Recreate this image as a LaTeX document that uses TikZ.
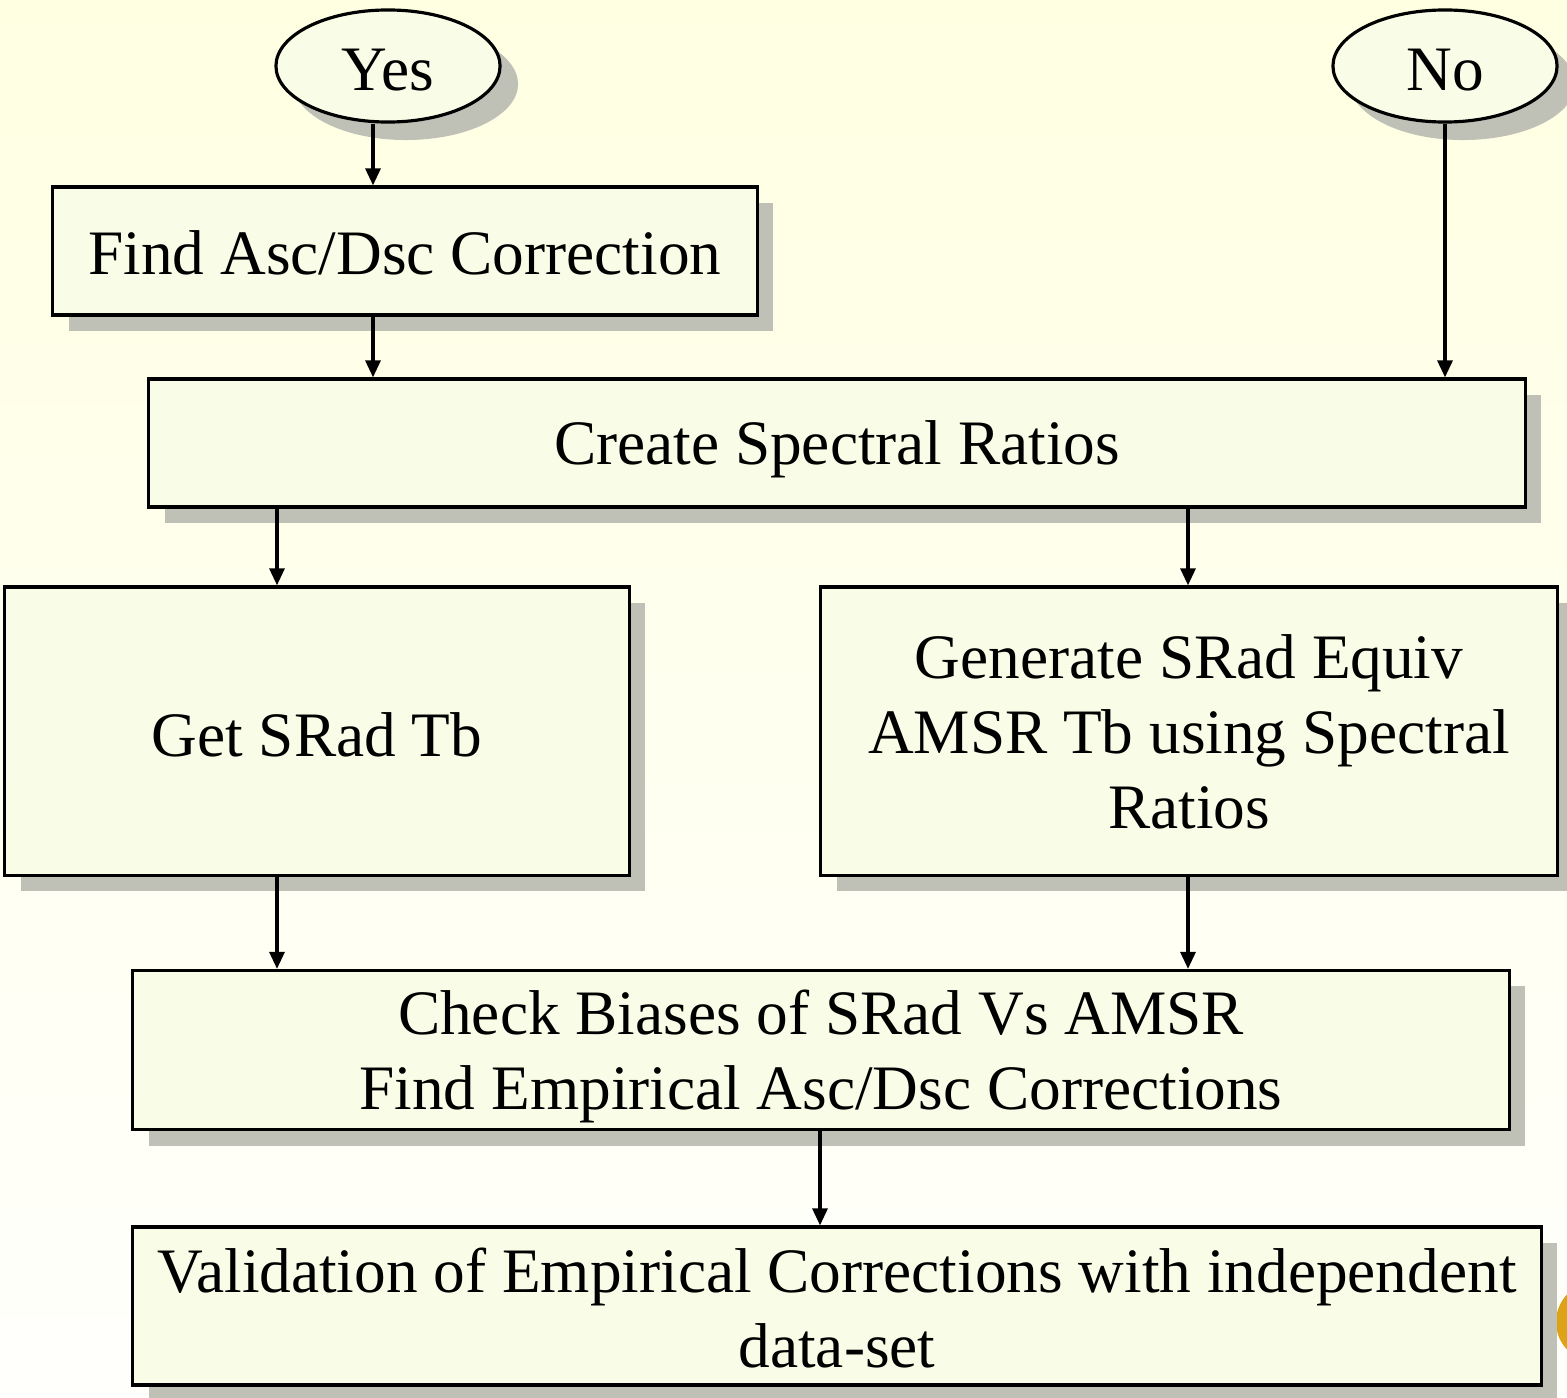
\documentclass[tikz,border=0pt]{standalone}
\usepackage{fontspec}
\setmainfont{Liberation Serif}
\usetikzlibrary{arrows.meta,shadows,shapes.geometric}
\definecolor{bgtop}{RGB}{255,255,226}
\definecolor{bgbot}{RGB}{255,255,252}
\definecolor{boxfill}{RGB}{249,252,230}
\definecolor{shadowc}{RGB}{191,192,182}
\definecolor{logoc}{RGB}{222,162,24}
\newcommand{\lift}[1]{\rule{0pt}{#1}}
\begin{document}
\begin{tikzpicture}[x=0.01cm,y=-0.01cm,
  box/.style={draw=black, line width=0.9pt, fill=boxfill, align=center, inner sep=0pt,
    font=\fontsize{18}{21.3}\selectfont,
    drop shadow={shadow xshift=0.16cm, shadow yshift=-0.16cm, fill=shadowc, opacity=1}},
  oval/.style={box, ellipse, minimum width=2.24cm, minimum height=1.12cm,
    drop shadow={shadow xshift=0.18cm, shadow yshift=-0.18cm, fill=shadowc, opacity=1}},
  arr/.style={-{Triangle[length=0.17cm,width=0.15cm]}, line width=0.9pt}]
\useasboundingbox (0,0) rectangle (1567,1397);
\fill[top color=bgtop, bottom color=bgbot] (0,0) rectangle (1567,1397);
\begin{scope}
  \clip (0,0) rectangle (1567,1397);
  \fill[logoc] (1596,1322) circle (40);
\end{scope}

\node[oval] (yes) at (388,66) {\lift{0.50cm}Yes};
\node[oval] (no) at (1445,66) {\lift{0.50cm}No};
\node[box, minimum width=7.04cm, minimum height=1.28cm] (find) at (405,251) {\lift{0.48cm}Find Asc/Dsc Correction};
\node[box, minimum width=13.76cm, minimum height=1.28cm] (create) at (837,443) {\lift{0.57cm}Create Spectral Ratios};
\node[box, minimum width=6.24cm, minimum height=2.88cm] (get) at (317,731) {\lift{0.51cm}Get SRad Tb};
\node[box, minimum width=7.36cm, minimum height=2.88cm] (gen) at (1189,731) {\lift{0.45cm}Generate SRad Equiv\\ AMSR Tb using Spectral\\ Ratios};
\node[box, minimum width=13.76cm, minimum height=1.59cm] (check) at (821,1050) {\lift{0.57cm}Check Biases of SRad Vs AMSR\\ Find Empirical Asc/Dsc Corrections};
\node[box, minimum width=14.08cm, minimum height=1.58cm] (valid) at (837,1306) {\lift{0.49cm}Validation of Empirical Corrections with independent\\ data-set};

\coordinate (xa) at (373,0);
\coordinate (xb) at (277,0);
\coordinate (xc) at (1188,0);
\coordinate (xd) at (820,0);

\draw[arr] (yes.south -| xa) -- (find.north -| xa);
\draw[arr] (find.south -| xa) -- (create.north -| xa);
\draw[arr] (no.south) -- (create.north -| no.south);
\draw[arr] (create.south -| xb) -- (get.north -| xb);
\draw[arr] (create.south -| xc) -- (gen.north -| xc);
\draw[arr] (get.south -| xb) -- (check.north -| xb);
\draw[arr] (gen.south -| xc) -- (check.north -| xc);
\draw[arr] (check.south -| xd) -- (valid.north -| xd);
\end{tikzpicture}
\end{document}
